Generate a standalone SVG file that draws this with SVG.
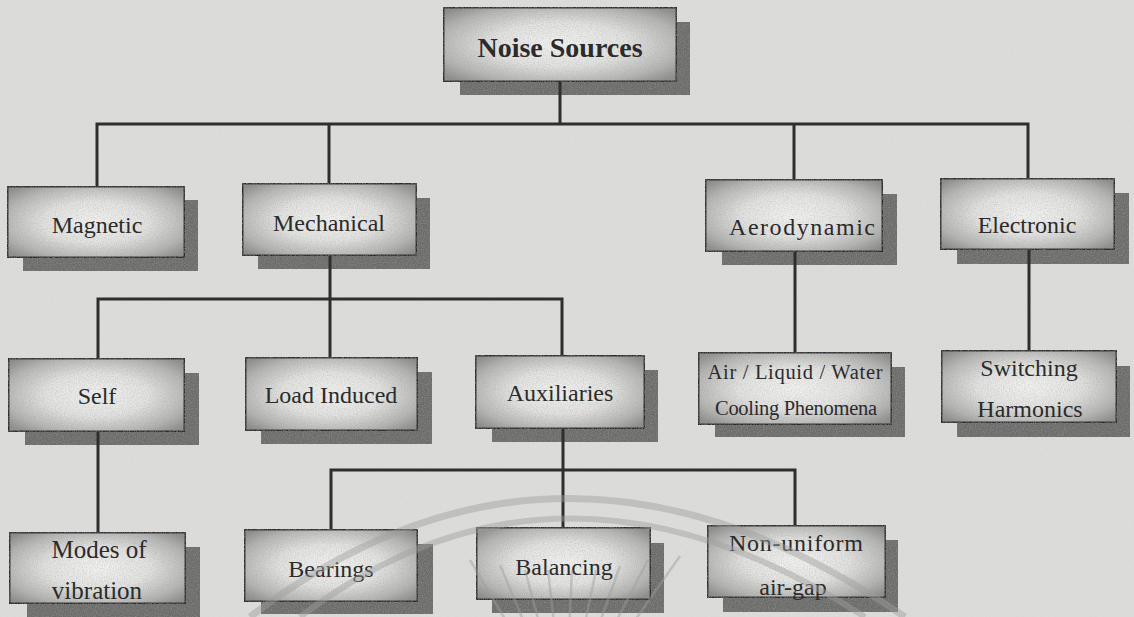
<svg xmlns="http://www.w3.org/2000/svg" width="1134" height="617" viewBox="0 0 1134 617">
  <defs>
    <radialGradient id="boxfill" cx="50%" cy="50%" r="65%">
      <stop offset="0" stop-color="#f2f2f0"/>
      <stop offset="0.45" stop-color="#e2e2e0"/>
      <stop offset="0.8" stop-color="#b4b4b2"/>
      <stop offset="1" stop-color="#8c8c8a"/>
    </radialGradient>
    <filter id="grain" x="0" y="0" width="100%" height="100%">
      <feTurbulence type="fractalNoise" baseFrequency="0.85" numOctaves="2" seed="4" result="n"/>
      <feColorMatrix in="n" type="matrix" values="0 0 0 0 0.35  0 0 0 0 0.35  0 0 0 0 0.35  0 0 0 0.9 -0.35" result="g"/>
      <feComposite in="g" in2="SourceGraphic" operator="in" result="gi"/>
      <feMerge><feMergeNode in="SourceGraphic"/><feMergeNode in="gi"/></feMerge>
    </filter>
    <filter id="bggrain" x="0" y="0" width="100%" height="100%">
      <feTurbulence type="fractalNoise" baseFrequency="0.6" numOctaves="2" seed="9" result="n"/>
      <feColorMatrix in="n" type="matrix" values="0 0 0 0 0.6  0 0 0 0 0.6  0 0 0 0 0.6  0 0 0 0.4 -0.15" result="g"/>
      <feComposite in="g" in2="SourceGraphic" operator="in" result="gi"/>
      <feMerge><feMergeNode in="SourceGraphic"/><feMergeNode in="gi"/></feMerge>
    </filter>
  </defs>
  <style>
    .shadow { fill: #6c6c6a; filter: url(#grain); }
    .box { fill: url(#boxfill); stroke: #2c2c2c; stroke-width: 3; filter: url(#grain); }
    .lbl { font-family: "Liberation Serif", "Times New Roman", serif; font-size: 24px; fill: #2b2b2b; text-anchor: middle; }
    .title { font-weight: bold; font-size: 28px; }
    .conn { fill: none; stroke: #2e2e2e; stroke-width: 3; }
    .wm { fill: none; stroke: #9e9e9e; stroke-opacity: 0.45; }
  </style>

  <rect x="0" y="0" width="1134" height="617" fill="#dcdcda" filter="url(#bggrain)"/>

  <g id="node-noise-sources">
    <rect class="shadow" x="460" y="22" width="230" height="73"/>
    <rect class="box" x="443" y="7" width="234" height="75"/>
    <text class="lbl title" x="560" y="57">Noise Sources</text>
  </g>

  <g id="node-magnetic">
    <rect class="shadow" x="23" y="200" width="175" height="71"/>
    <rect class="box" x="7" y="186" width="178" height="72"/>
    <text class="lbl" x="97" y="233">Magnetic</text>
  </g>

  <g id="node-mechanical">
    <rect class="shadow" x="258" y="198" width="172" height="71"/>
    <rect class="box" x="242" y="183" width="175" height="73"/>
    <text class="lbl" x="329" y="231">Mechanical</text>
  </g>

  <g id="node-aerodynamic">
    <rect class="shadow" x="722" y="194" width="175" height="71"/>
    <rect class="box" x="705" y="179" width="178" height="73"/>
    <text class="lbl" x="802" y="235" textLength="146" lengthAdjust="spacing">Aerodynamic</text>
  </g>

  <g id="node-electronic">
    <rect class="shadow" x="957" y="193" width="172" height="71"/>
    <rect class="box" x="940" y="178" width="175" height="72"/>
    <text class="lbl" x="1027" y="233">Electronic</text>
  </g>

  <g id="node-self">
    <rect class="shadow" x="25" y="373" width="174" height="72"/>
    <rect class="box" x="8" y="358" width="177" height="74"/>
    <text class="lbl" x="97" y="404">Self</text>
  </g>

  <g id="node-load-induced">
    <rect class="shadow" x="261" y="372" width="171" height="72"/>
    <rect class="box" x="245" y="357" width="173" height="74"/>
    <text class="lbl" x="331" y="403">Load Induced</text>
  </g>

  <g id="node-auxiliaries">
    <rect class="shadow" x="492" y="370" width="166" height="72"/>
    <rect class="box" x="475" y="355" width="170" height="74"/>
    <text class="lbl" x="560" y="401">Auxiliaries</text>
  </g>

  <g id="node-cooling">
    <rect class="shadow" x="715" y="367" width="190" height="70"/>
    <rect class="box" x="698" y="352" width="194" height="73"/>
    <text class="lbl" x="795" y="379" style="font-size:20.5px" textLength="175" lengthAdjust="spacing">Air / Liquid / Water</text>
    <text class="lbl" x="796" y="415" style="font-size:20.5px" textLength="162" lengthAdjust="spacing">Cooling Phenomena</text>
  </g>

  <g id="node-switching">
    <rect class="shadow" x="957" y="366" width="173" height="71"/>
    <rect class="box" x="941" y="350" width="176" height="73"/>
    <text class="lbl" x="1029" y="376">Switching</text>
    <text class="lbl" x="1030" y="417">Harmonics</text>
  </g>

  <g id="node-modes">
    <rect class="shadow" x="27" y="547" width="173" height="75"/>
    <rect class="box" x="9" y="532" width="177" height="72"/>
    <text class="lbl" x="99" y="558" style="font-size:25px">Modes of</text>
    <text class="lbl" x="97" y="599" style="font-size:25px">vibration</text>
  </g>

  <g id="node-bearings">
    <rect class="shadow" x="261" y="544" width="172" height="70"/>
    <rect class="box" x="244" y="529" width="174" height="73"/>
    <text class="lbl" x="331" y="577">Bearings</text>
  </g>

  <g id="node-balancing">
    <rect class="shadow" x="492" y="543" width="172" height="70"/>
    <rect class="box" x="476" y="527" width="175" height="73"/>
    <text class="lbl" x="564" y="575">Balancing</text>
  </g>

  <g id="node-airgap">
    <rect class="shadow" x="723" y="540" width="175" height="72"/>
    <rect class="box" x="707" y="525" width="179" height="73"/>
    <text class="lbl" x="796" y="551" textLength="134" lengthAdjust="spacing">Non-uniform</text>
    <text class="lbl" x="793" y="595">air-gap</text>
  </g>

  <g id="connectors">
    <path class="conn" d="M560 82 V124"/>
    <path class="conn" d="M97 186 V124 H1028 V178"/>
    <path class="conn" d="M329 124 V183"/>
    <path class="conn" d="M794 124 V179"/>
    <path class="conn" d="M330 256 V357"/>
    <path class="conn" d="M98 358 V299 H562 V355"/>
    <path class="conn" d="M795 252 V352"/>
    <path class="conn" d="M1029 250 V350"/>
    <path class="conn" d="M98 432 V532"/>
    <path class="conn" d="M563 429 V527"/>
    <path class="conn" d="M331 529 V470 H795 V525"/>
  </g>

  <g id="watermark">
    <path class="wm" stroke-width="7" d="M250 617 Q560 380 905 617"/>
    <path class="wm" stroke-width="6" d="M300 617 Q560 420 865 617"/>
    <g class="wm" stroke-width="2.5" stroke-opacity="0.5">
      <path d="M565 720 L470 560"/>
      <path d="M565 720 L500 565"/>
      <path d="M565 720 L525 570"/>
      <path d="M565 720 L548 570"/>
      <path d="M565 720 L572 570"/>
      <path d="M565 720 L596 570"/>
      <path d="M565 720 L620 566"/>
      <path d="M565 720 L648 560"/>
      <path d="M565 720 L680 556"/>
    </g>
  </g>
</svg>
